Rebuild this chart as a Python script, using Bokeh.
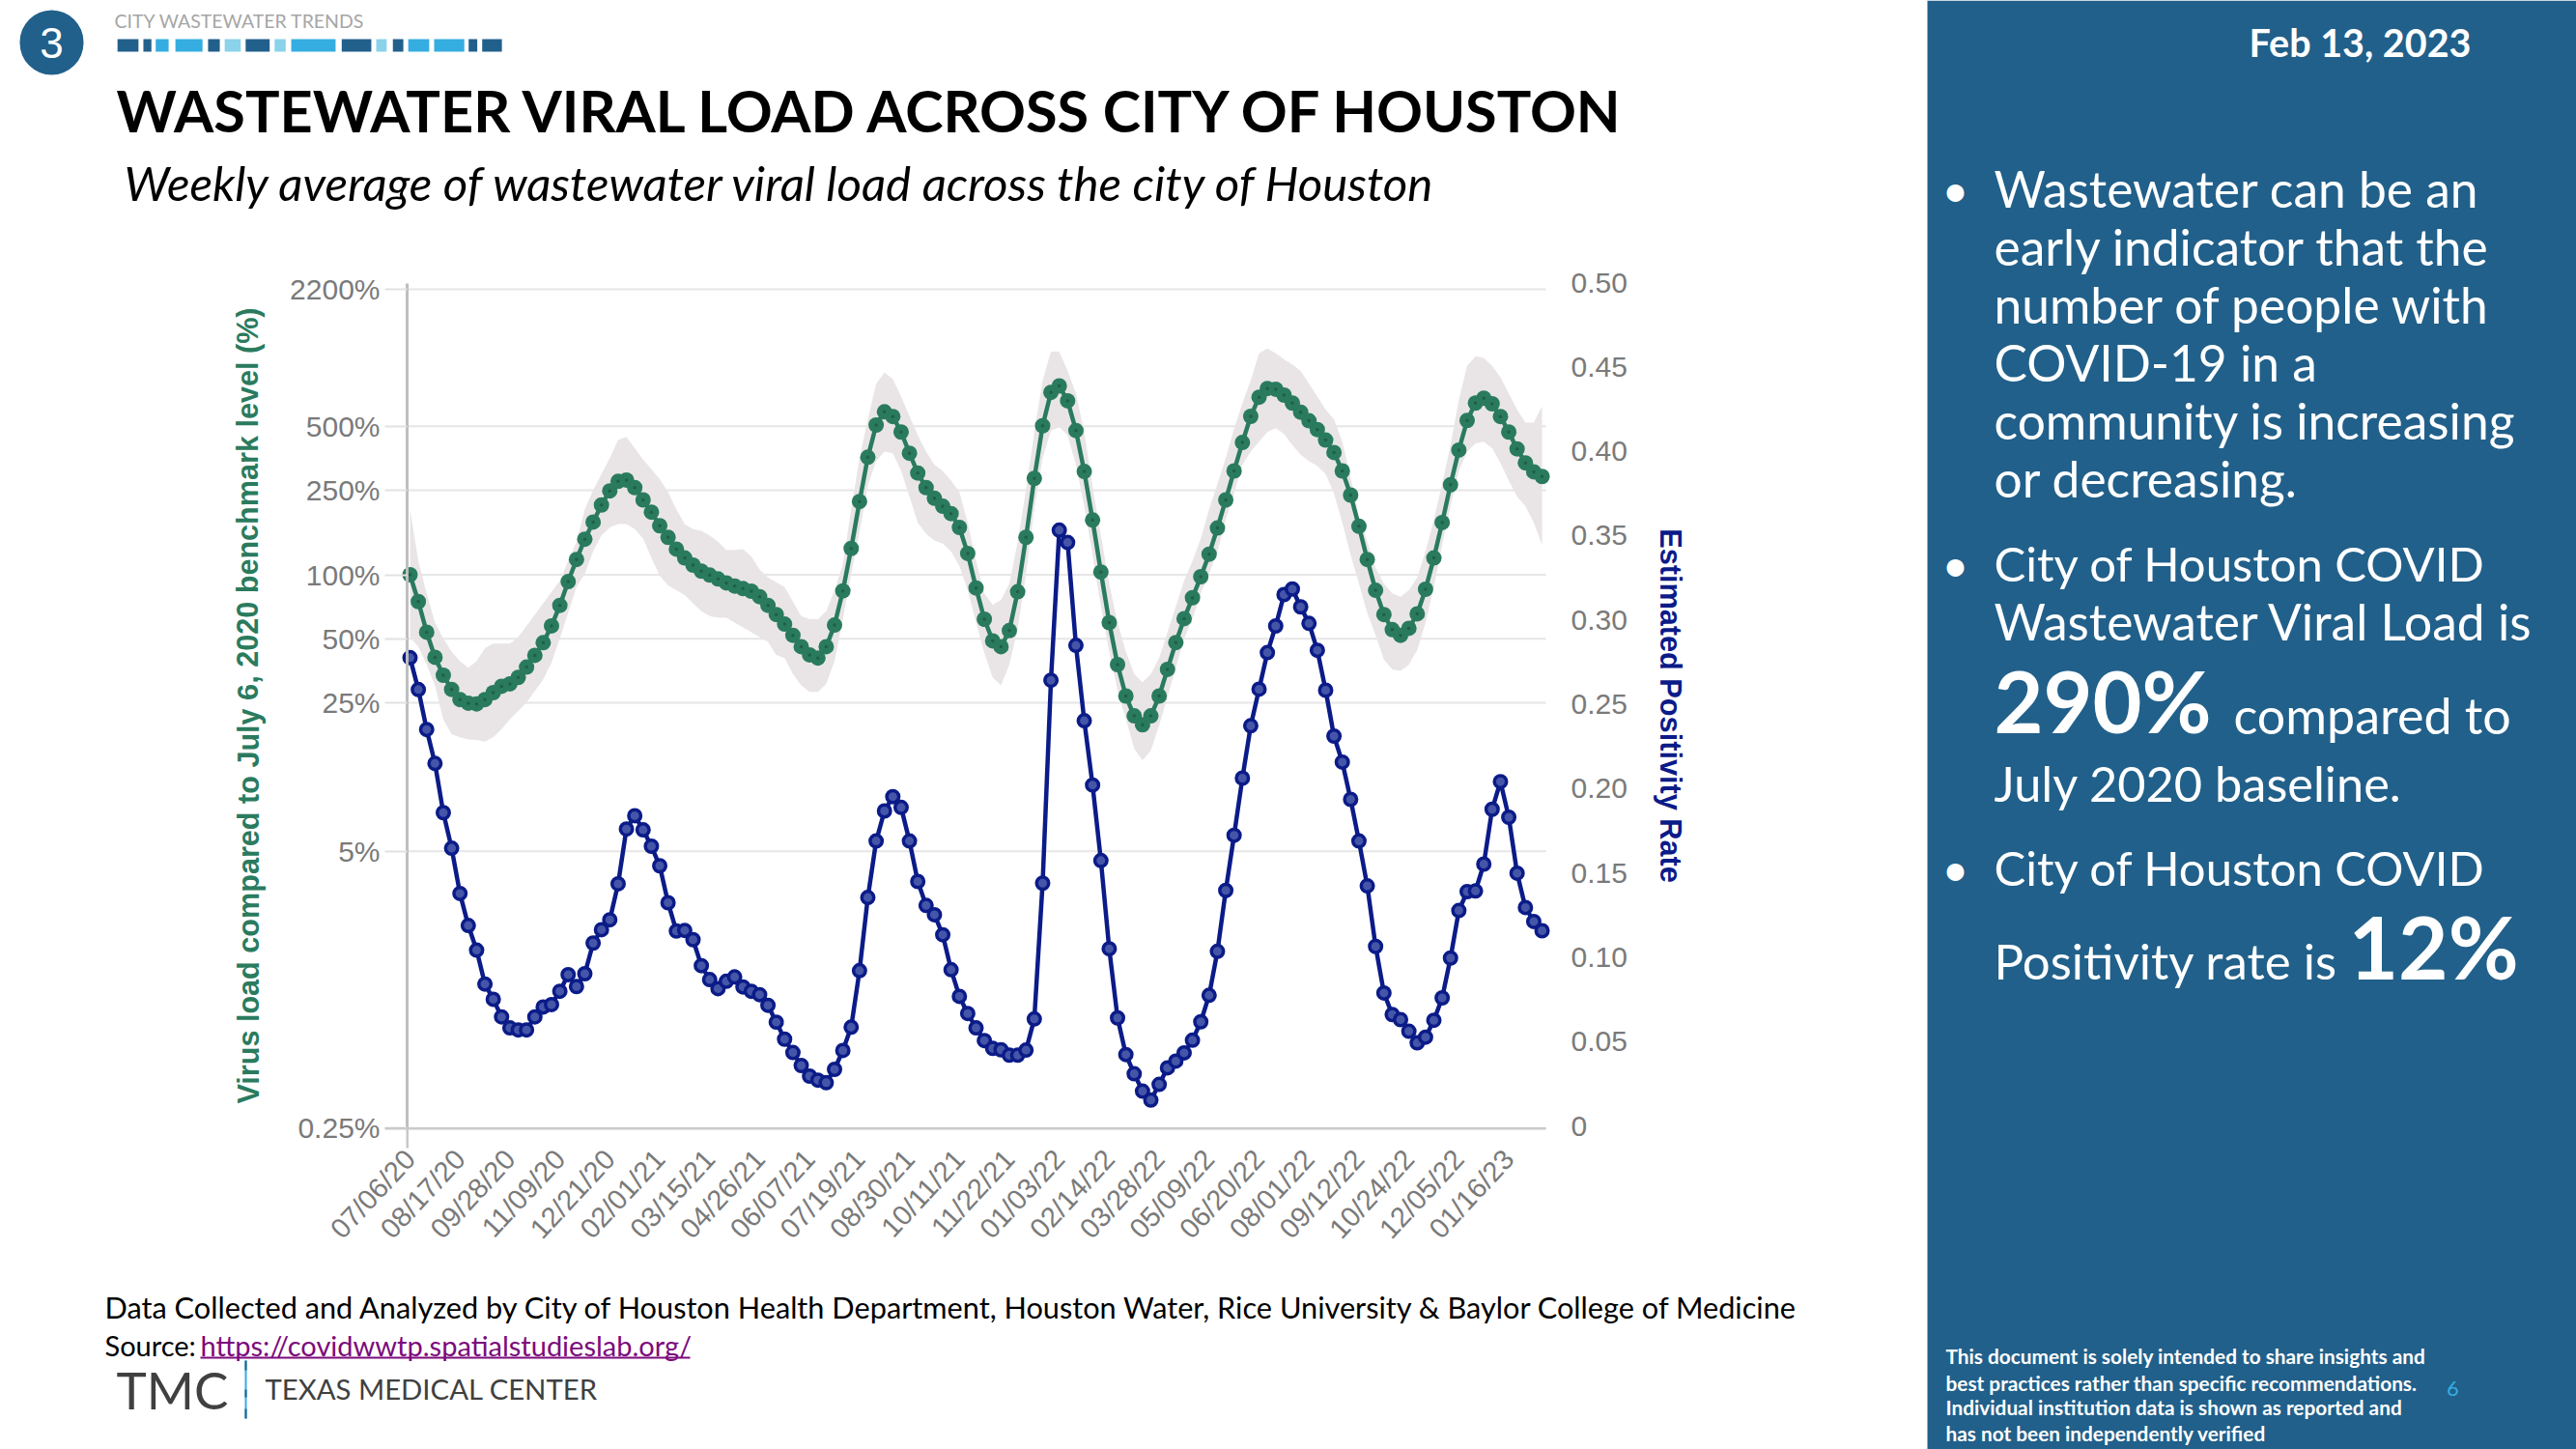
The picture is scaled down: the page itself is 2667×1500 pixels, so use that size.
from bokeh.plotting import figure
from bokeh.models import (Range1d, LinearAxis, LinearScale, FixedTicker, Label, BoxAnnotation)
from bokeh.embed import file_html
from bokeh.resources import INLINE

# ---------------- data ----------------
date_labels = ["07/06/20","08/17/20","09/28/20","11/09/20","12/21/20","02/01/21","03/15/21","04/26/21",
               "06/07/21","07/19/21","08/30/21","10/11/21","11/22/21","01/03/22","02/14/22","03/28/22",
               "05/09/22","06/20/22","08/01/22","09/12/22","10/24/22","12/05/22","01/16/23"]
weeks_between_labels = 6

viral_load_pct = [100,74.8,53.7,40.9,33.7,28.9,25.9,24.9,24.7,25.9,27.9,29.9,30.7,32.9,36.8,41.8,47.9,57.5,71.8,92.9,
    118,147,177,213,248,275,279,257,225,197,170,150,132,120,111,104,99.7,95.6,91.6,88.5,86.1,83.7,78.9,71.8,65.0,58.6,
    51.9,45.9,42.0,40.6,45.9,58.0,84.0,133,221,357,506,584,555,469,373,301,257,229,210,194,167,126,86.7,61.8,48.9,45.9,
    54.6,83.2,150,284,502,721,773,658,477,306,181,103,59.6,37.8,26.9,21.7,19.7,21.7,26.9,35.9,48.0,62.2,78.0,97.9,125,
    166,225,308,419,556,684,752,746,700,642,582,530,482,430,376,308,237,169,118,84.5,65.0,55.2,51.9,56.0,65.5,85.5,120,
    176,265,386,532,642,677,637,555,469,391,336,305,290]
band_upper_pct = [203,116,81.7,59.6,50.1,43.5,39.2,36.5,39.2,45.1,47.5,47.5,47.5,50.9,57.5,65.0,73.5,83.1,93.9,116,
    143,203,250,298,354,430,445,394,348,314,282,245,203,173,164,161,153,143,131,131,132,122,106,97.2,92.3,87.6,
    74.8,63.9,61.8,61.8,67.4,84.5,112,203,354,539,792,895,834,689,558,453,380,330,308,277,245,176,116,81.7,72.2,76.2,
    90.7,143,250,469,820,1120,1120,910,713,469,259,153,90.7,59.6,43.5,34.1,31.2,34.1,40.6,53.7,71.0,93.9,116,148,203,
    268,354,485,642,820,1100,1160,1100,1030,976,910,792,689,599,539,422,287,189,143,108,90.7,81.7,78.9,84.5,97.2,129,182,
    268,407,665,960,1066,1047,960,849,713,599,520,520,620]
band_lower_pct = [50.9,45.9,37.8,30.0,20.9,17.8,17.2,16.8,16.7,16.4,17.2,18.8,20.9,22.9,25.1,28.4,32.2,38.6,50.1,66.2,
    87.6,101,129,153,167,173,173,164,148,120,99,89.1,84.5,80.3,73.5,67.4,63.9,62.8,62.8,59.6,56.6,53.7,50.9,48.3,42.0,40.6,
    34.1,30.2,28.1,28.1,30.7,39.2,61.8,101,159,263,342,380,373,308,233,176,156,145,140,129,110,84.5,59.6,42.8,32.9,30.2,
    37.8,55.6,101,203,354,477,494,453,330,210,124,71.0,43.5,28.6,21.0,15.2,13.4,14.9,19.6,26.6,36.5,50.1,61.8,81.7,101,
    129,182,241,330,380,422,469,489,460,407,367,342,325,298,241,176,124,90.7,66.2,51.9,39.9,35.9,35.3,37.8,44.3,59.6,87.6,
    138,210,308,380,415,422,394,336,277,233,210,176,138]
positivity_rate = [.2776,.2587,.2350,.2149,.1857,.1646,.1378,.1188,.1042,.0841,.0751,.0646,.0581,.0569,.0569,.0646,.0705,.0719,
    .0798,.0897,.0826,.0902,.1084,.1163,.1222,.1435,.1760,.1839,.1755,.1658,.1542,.1323,.1155,.1159,.1104,.0950,.0867,.0814,
    .0857,.0883,.0824,.0798,.0778,.0715,.0615,.0514,.0435,.0358,.0295,.0271,.0256,.0335,.0447,.0585,.0920,.1354,.1689,.1867,
    .1952,.1888,.1689,.1449,.1307,.1252,.1133,.0926,.0768,.0666,.0581,.0506,.0459,.0451,.0419,.0419,.0449,.0634,.1439,.2642,
    .3532,.3459,.2849,.2402,.2021,.1573,.1050,.0640,.0423,.0309,.0206,.0153,.0246,.0344,.0384,.0433,.0508,.0617,.0774,.1035,
    .1396,.1723,.2062,.2372,.2589,.2806,.2964,.3150,.3183,.3077,.2979,.2820,.2583,.2311,.2157,.1936,.1689,.1423,.1064,.0788,
    .0660,.0630,.0561,.0492,.0526,.0626,.0759,.0995,.1277,.1389,.1393,.1552,.1877,.2041,.1830,.1498,.1295,.1212,.1157]

left_tick_labels = ["0.25%","5%","25%","50%","100%","250%","500%","2200%"]
left_tick_values = [0.25,5,25,50,100,250,500,2200]
right_tick_values = [0,0.05,0.10,0.15,0.20,0.25,0.30,0.35,0.40,0.45,0.50]
right_tick_labels = ["0","0.05","0.10","0.15","0.20","0.25","0.30","0.35","0.40","0.45","0.50"]

bullet_1 = ["Wastewater can be an","early indicator that the","number of people with","COVID-19 in a","community is increasing","or decreasing."]
disclaimer = ["This document is solely intended to share insights and","best practices rather than specific recommendations.",
              "Individual institution data is shown as reported and","has not been independently verified"]

# ---------------- layout: the frame fills the whole canvas, so that slide furniture is not clipped ----------------
W_PX, H_PX = 2667, 1500
PX_PER_WEEK = 8.618
X0_PX = 424
X_LEFT, X_RIGHT = (421-X0_PX)/PX_PER_WEEK, (1600-X0_PX)/PX_PER_WEEK
x_range = Range1d(-X0_PX/PX_PER_WEEK, (W_PX-X0_PX)/PX_PER_WEEK)
# log scale: 220.1 px per decade, 100% at y=594.5 px
PX_PER_DECADE, Y100_PX = 220.1, 594.5
y_range = Range1d(100*10**((Y100_PX-H_PX)/PX_PER_DECADE), 100*10**(Y100_PX/PX_PER_DECADE))
# rate scale: 0 at y=1165 px, 0.5 at y=292 px
RATE_PX = 1746
rate_range = Range1d((1165-H_PX)/RATE_PX, 1165/RATE_PX)
PLOT_BOTTOM, PLOT_TOP = 0.25, 2343

x_idx = list(range(len(viral_load_pct)))

p = figure(width=W_PX, height=H_PX, output_backend="svg", toolbar_location=None,
           y_axis_type="log", x_range=x_range, y_range=y_range,
           min_border_left=0, min_border_right=0, min_border_top=0, min_border_bottom=0)
p.outline_line_color = None
p.extra_y_ranges = {"rate": rate_range}
p.extra_y_scales = {"rate": LinearScale()}
p.xgrid.visible = False
p.ygrid.visible = False

TICK_GREY = "#7A7A7A"
FS = "30px"
# left axis
ya = p.yaxis[0]
ya.fixed_location = X_LEFT
ya.bounds = (PLOT_BOTTOM, PLOT_TOP)
ya.ticker = FixedTicker(ticks=left_tick_values)
ya.major_label_overrides = dict(zip(left_tick_values, left_tick_labels))
ya.major_label_text_font = "Liberation Sans"
ya.major_label_text_font_size = FS
ya.major_label_text_color = TICK_GREY
ya.major_label_standoff = 5
ya.major_tick_in = 0
ya.major_tick_out = 23
ya.major_tick_line_color = "#E2E2E2"
ya.major_tick_line_width = 2
ya.minor_tick_line_color = None
ya.axis_line_color = "#BEBEBE"
ya.axis_line_width = 3

# right axis
ra = LinearAxis(y_range_name="rate", ticker=FixedTicker(ticks=right_tick_values), fixed_location=X_RIGHT, bounds=(0, 0.5))
ra.major_label_overrides = dict(zip(right_tick_values, right_tick_labels))
ra.major_label_text_font = "Liberation Sans"
ra.major_label_text_font_size = FS
ra.major_label_text_color = TICK_GREY
ra.major_label_standoff = 26
ra.major_tick_in = 0
ra.major_tick_out = 0
ra.minor_tick_line_color = None
ra.axis_line_color = None
p.add_layout(ra, "right")

# x axis
xa = p.xaxis[0]
tick_idx = [i*weeks_between_labels for i in range(len(date_labels))]
xa.fixed_location = PLOT_BOTTOM
xa.ticker = FixedTicker(ticks=tick_idx)
xa.major_label_overrides = dict(zip(tick_idx, date_labels))
xa.major_label_orientation = 0.82
xa.major_label_text_font = "Liberation Sans"
xa.major_label_text_font_size = "29px"
xa.major_label_text_color = TICK_GREY
xa.major_label_standoff = 27
xa.major_tick_in = 0
xa.major_tick_out = 0
xa.minor_tick_line_color = None
xa.axis_line_color = None

# ---------------- marks ----------------
GREEN, GREEN_D = "#2A7B5E", "#1E5F47"
NAVY, NAVY_L = "#0B1B88", "#4556A8"
n_grid = len(left_tick_values)
p.segment([X_LEFT]*n_grid, left_tick_values, [X_RIGHT]*n_grid, left_tick_values, line_color="#E6E6E6", line_width=2)
p.varea(x_idx, band_lower_pct, band_upper_pct, fill_color="#E9E5E7", fill_alpha=1)
p.line(x_idx, viral_load_pct, line_color=GREEN, line_width=4.5)
p.scatter(x_idx, viral_load_pct, size=16, fill_color=GREEN, line_color=GREEN, line_width=0)
p.scatter(x_idx, viral_load_pct, size=3.5, fill_color=GREEN_D, line_color=None)
p.line(x_idx, positivity_rate, y_range_name="rate", line_color=NAVY, line_width=4.5)
p.scatter(x_idx, positivity_rate, y_range_name="rate", size=12.5, fill_color=NAVY_L, line_color=NAVY, line_width=3.5)

# ---------------- slide furniture (page pixel coordinates) ----------------
def box(x0, x1, y0, y1, color, **kw):
    p.add_layout(BoxAnnotation(left=x0, right=x1, top=H_PX-y0, bottom=H_PX-y1,
                               left_units="screen", right_units="screen", top_units="screen", bottom_units="screen",
                               fill_color=color, fill_alpha=1, line_color=None, **kw))

def text(s, x, y, size, color="#000000", font="Lato", style="normal", align="left", angle=0, baseline="middle"):
    p.add_layout(Label(x=x, y=H_PX-y, x_units="screen", y_units="screen", text=s, text_font=font,
                       text_font_size=f"{size}px", text_font_style=style, text_color=color,
                       text_align=align, text_baseline=baseline, angle=angle))

box(398, 1600, 1166.5, 1169, "#CACACA")      # baseline
box(420, 422.5, 1167, 1188, "#C8C8C8")       # axis stub under baseline

# header
box(20, 86, 10, 77, "#21608A", border_radius=33)
text("3", 53, 44, 44, "#FFFFFF", "Liberation Sans", align="center")
text("CITY WASTEWATER TRENDS", 118, 21, 19.5, "#A6A6A6")
DK, LT, PL = "#22608C", "#35ADE1", "#8AD3EA"
segs = [(190,224,DK),(232,245,DK),(252,273,LT),(284,328,LT),(337,356,DK),(364,390,PL),(398,437,DK),(445,463,PL),
        (472,544,LT),(554,602,DK),(610,627,PL),(637,654,DK),(662,696,LT),(704,753,LT),(760,774,DK),(782,814,DK)]
for a, b, c in segs:
    box(a/1.568, b/1.568, 40, 53, c)
text("WASTEWATER VIRAL LOAD ACROSS CITY OF HOUSTON", 120, 113, 59.4, font="Lato", style="bold")
text("Weekly average of wastewater viral load across the city of Houston", 128, 188, 49.2, style="italic")

# axis titles
text("Virus load compared to July 6, 2020 benchmark level (%)", 256, 730, 30.6, "#2A7B5E", "Liberation Sans", "bold",
     align="center", angle=1.5708)
text("Estimated Positivity Rate", 1729, 730, 30.7, "#0B1B88", "Liberation Sans", "bold", align="center", angle=-1.5708)

# footer
text("Data Collected and Analyzed by City of Houston Health Department, Houston Water,  Rice University & Baylor College of Medicine",
     108, 1353, 30.7)
text("Source:", 108, 1392, 29)
text("https://covidwwtp.spatialstudieslab.org/", 207, 1392, 29, "#7C0A7C")
box(207, 714, 1404, 1406, "#7C0A7C")
text("TMC", 120, 1438, 53, "#404040")
box(253, 255, 1408, 1468, "#35ADE1")
for a, b in [(1408,1418),(1438,1446),(1458,1468)]:
    box(253, 255, a, b, "#22608C")
text("TEXAS MEDICAL CENTER", 274, 1437, 29.3, "#404040")

# right panel
box(1995, 2667, 0, 1500, "#21608A")
text("Feb 13, 2023", 2558, 43, 39.5, "#FFFFFF", style="bold", align="right")
W = "#FFFFFF"
BODY = 51.5
for y in (195, 583, 898):
    text("•", 2024, y, 48, W, align="center")
for i, s in enumerate(bullet_1):
    text(s, 2064, 194+i*60, BODY, W)
text("City of Houston COVID", 2064, 582, 49, W)
text("Wastewater Viral Load is", 2064, 642, BODY, W)
text("290%", 2064, 724, 88, W, style="bold")
text("compared to", 2312, 739, 52, W)
text("July 2020 baseline.", 2064, 810, 50.5, W)
text("City of Houston COVID", 2064, 897, 49, W)
text("Positivity rate is", 2064, 994, 51, W)
text("12%", 2431, 979, 89, W, style="bold")
for y, s in zip((1403, 1431, 1456, 1483), disclaimer):
    text(s, 2014, y, 20.8, W, style="bold")
text("6", 2539, 1437, 22, "#35ADE1", align="center")

open("out.html", "w").write(file_html(p, INLINE))
